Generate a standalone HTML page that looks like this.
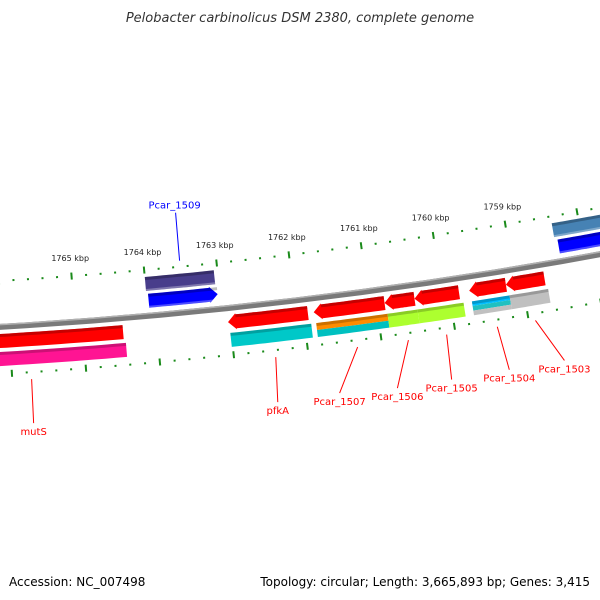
<!DOCTYPE html>
<html><head><meta charset="utf-8">
<style>
html,body{margin:0;padding:0;background:#fff;}
svg{display:block;font-family:"DejaVu Sans","Liberation Sans",sans-serif;}
</style></head>
<body>
<svg id="chart" width="600" height="600" viewBox="0 0 600 600">
<text x="300" y="22" text-anchor="middle" font-size="13" font-style="italic" fill="#333">Pelobacter carbinolicus DSM 2380, complete genome</text>
<text x="9" y="586" font-size="12" fill="#000">Accession: NC_007498</text>
<text x="590" y="586" text-anchor="end" font-size="12" fill="#000">Topology: circular; Length: 3,665,893 bp; Genes: 3,415</text>
<g id="layer"></g>
</svg>
<script>
// ---- data ----
const tickStart = 1766000;
const tickEnd = 1757600;
const majorLabels = [1765, 1764, 1763, 1762, 1761, 1760, 1759];
const plusNames = ["Pcar_1509-cog", "Pcar_1509", "edge-cog", "edge-gene"];
const plusStarts = [1764000, 1763976, 1758370, 1758330];
const plusEnds = [1763050, 1763030, 1757700, 1757700];
const plusRows = [32, 15, 32, 15];
const plusColors = ["#483d8b", "#0000ff", "#4682b4", "#0000ff"];
const plusArrow = [false, true, false, false];
const geneNames = ["mutS", "pfkA", "Pcar_1507", "Pcar_1506", "Pcar_1505", "Pcar_1504", "Pcar_1503"];
const geneStarts = [1766100, 1762930, 1761760, 1760790, 1760380, 1759630, 1759125];
const geneEnds = [1764360, 1761840, 1760790, 1760380, 1759770, 1759125, 1758595];
const cogStarts = [1766100, 1762914, 1761744, 1760770, 1760360, 1759616, 1759100];
const cogEnds = [1764334, 1761812, 1760770, 1760360, 1759730, 1759100, 1758570];
const cogColors = [["#ff1493"], ["#00c8c8"], ["#ff8c00", "#00c0c0"], ["#adff2f"], ["#adff2f"], ["#00bfff", "#20c0c0", "#c0c0c0"], ["#c0c0c0"]];
const geneArrow = [false, true, true, true, true, true, true];
const labelAnchorBp = [1765640, 1762340, 1761230, 1760540, 1760020, 1759330, 1758810];
const labelDx = [2, 2, -18, -11, 5, 12, 29];
const labelLen = [44, 45, 46, 48, 45, 43, 40];

// ---- geometry ----
const CX = -300, CY = -4664, R = 5000;
const PHI0 = Math.asin(375 / R), K = 73.5 / 1000 / R;
function phi(bp){ return PHI0 + (1765000 - bp) * K; }
function P(bp, off){ const r = R - off, a = phi(bp); return [CX + r*Math.sin(a), CY + r*Math.cos(a)]; }
const NS = "http://www.w3.org/2000/svg";
const layer = document.getElementById("layer");
function mk(tag, attrs){ const e = document.createElementNS(NS, tag); for (const k in attrs) e.setAttribute(k, attrs[k]); layer.appendChild(e); return e; }
function fmt(pts){ return pts.map(p=>p[0].toFixed(1)+","+p[1].toFixed(1)).join(" "); }
function band(b1, b2, o1, o2){
  const pts = [], n = 12;
  for (let i=0;i<=n;i++){ const b=b1+(b2-b1)*i/n; pts.push(P(b,o1)); }
  for (let i=n;i>=0;i--){ const b=b1+(b2-b1)*i/n; pts.push(P(b,o2)); }
  return fmt(pts);
}
function arrowPoly(b1, b2, mid, h, headLeft, headRight){
  const hb = 110, pts = [], n = 12;
  const s = headLeft ? b1 - hb : b1, e = headRight ? b2 + hb : b2;
  if (headLeft) { pts.push(P(b1, mid)); pts.push(P(s, mid+h+1)); }
  for (let i=0;i<=n;i++){ const b=s+(e-s)*i/n; pts.push(P(b,mid+h)); }
  if (headRight) { pts.push(P(e, mid+h+1)); pts.push(P(b2, mid)); pts.push(P(e, mid-h-1)); }
  for (let i=n;i>=0;i--){ const b=s+(e-s)*i/n; pts.push(P(b,mid-h)); }
  if (headLeft) pts.push(P(s, mid-h-1));
  return fmt(pts);
}

// backbone
let bb = mk("polygon", {points: band(1767500, 1756500, 3, -3), fill: "#7a7a7a"});


let bb2 = mk("polygon", {points: band(1767500, 1756500, 3, 1.5), fill: "#b0b0b0"});



// ticks
for (let bp = tickStart; bp >= tickEnd; bp -= 200){
  const major = bp % 1000 === 0;
  [[bp, 46], [bp - 100, -47]].forEach(([b, off])=>{
    const a = P(b, off + (major?3.5:1)), c = P(b, off - (major?3.5:1));
    const t = mk("line", {x1:a[0],y1:a[1],x2:c[0],y2:c[1],stroke:"#1a8a1a","stroke-width":2});
    
    
  });
}
majorLabels.forEach(k=>{
  const p = P(k*1000, 64);
  const t = mk("text", {x:p[0], y:p[1]+3, "text-anchor":"middle","font-size":"8",fill:"#222"});
  t.textContent = k + " kbp";
  
  
});

// plus strand
plusNames.forEach((nm,i)=>{
  const g = mk("polygon", {points: arrowPoly(plusStarts[i], plusEnds[i], plusRows[i], 7, false, plusArrow[i]), fill: plusColors[i]});
  
  
  const s = mk("polygon", {points: band(plusStarts[i], plusEnds[i], plusRows[i]+7, plusRows[i]+4), fill:"#000", "fill-opacity":0.25});
  
  
  const l = mk("polygon", {points: band(plusStarts[i], plusEnds[i], plusRows[i]-5, plusRows[i]-7), fill:"#fff", "fill-opacity":0.3});
  
  
});

// minus strand genes
geneNames.forEach((nm,i)=>{
  const g = mk("polygon", {points: arrowPoly(geneStarts[i], geneEnds[i], -14, 7, geneArrow[i], false), fill:"#ff0000"});
  
  
  const s = mk("polygon", {points: band(geneStarts[i] - (geneArrow[i]?110:0), geneEnds[i], -7, -10), fill:"#a00000", "fill-opacity":0.6});
  
  
  const cols = cogColors[i], h = 14 / cols.length;
  cols.forEach((c,j)=>{
    const top = -25 - j*h, bot = top - h;
    const cb = mk("polygon", {points: band(cogStarts[i], cogEnds[i], top, bot), fill:c});
    
    
  });
  const sh = mk("polygon", {points: band(cogStarts[i], cogEnds[i], -25, -28), fill:"#000", "fill-opacity":0.2});
  
  
  const a = P(labelAnchorBp[i], -54);
  const ex = a[0] + labelDx[i], ey = a[1] + labelLen[i];
  const ln = mk("line", {x1:a[0], y1:a[1], x2:ex, y2:ey, stroke:"#ff0000", "stroke-width":1});
  
  
  const tx = mk("text", {x:ex, y:ey+12, "text-anchor":"middle", "font-size":"10", fill:"#ff0000"});
  tx.textContent = nm;
  
  
});

// Pcar_1509 label
{
  const mid = (plusStarts[1] + plusEnds[1]) / 2;
  const a = P(mid, 52);
  const ln = mk("line", {x1:a[0], y1:a[1], x2:a[0]-4, y2:a[1]-48, stroke:"#0000ff", "stroke-width":1});
  
  
  const tx = mk("text", {x:a[0]-5, y:a[1]-52, "text-anchor":"middle", "font-size":"10", fill:"#0000ff"});
  tx.textContent = "Pcar_1509";
  
  
}
</script>
</body></html>
